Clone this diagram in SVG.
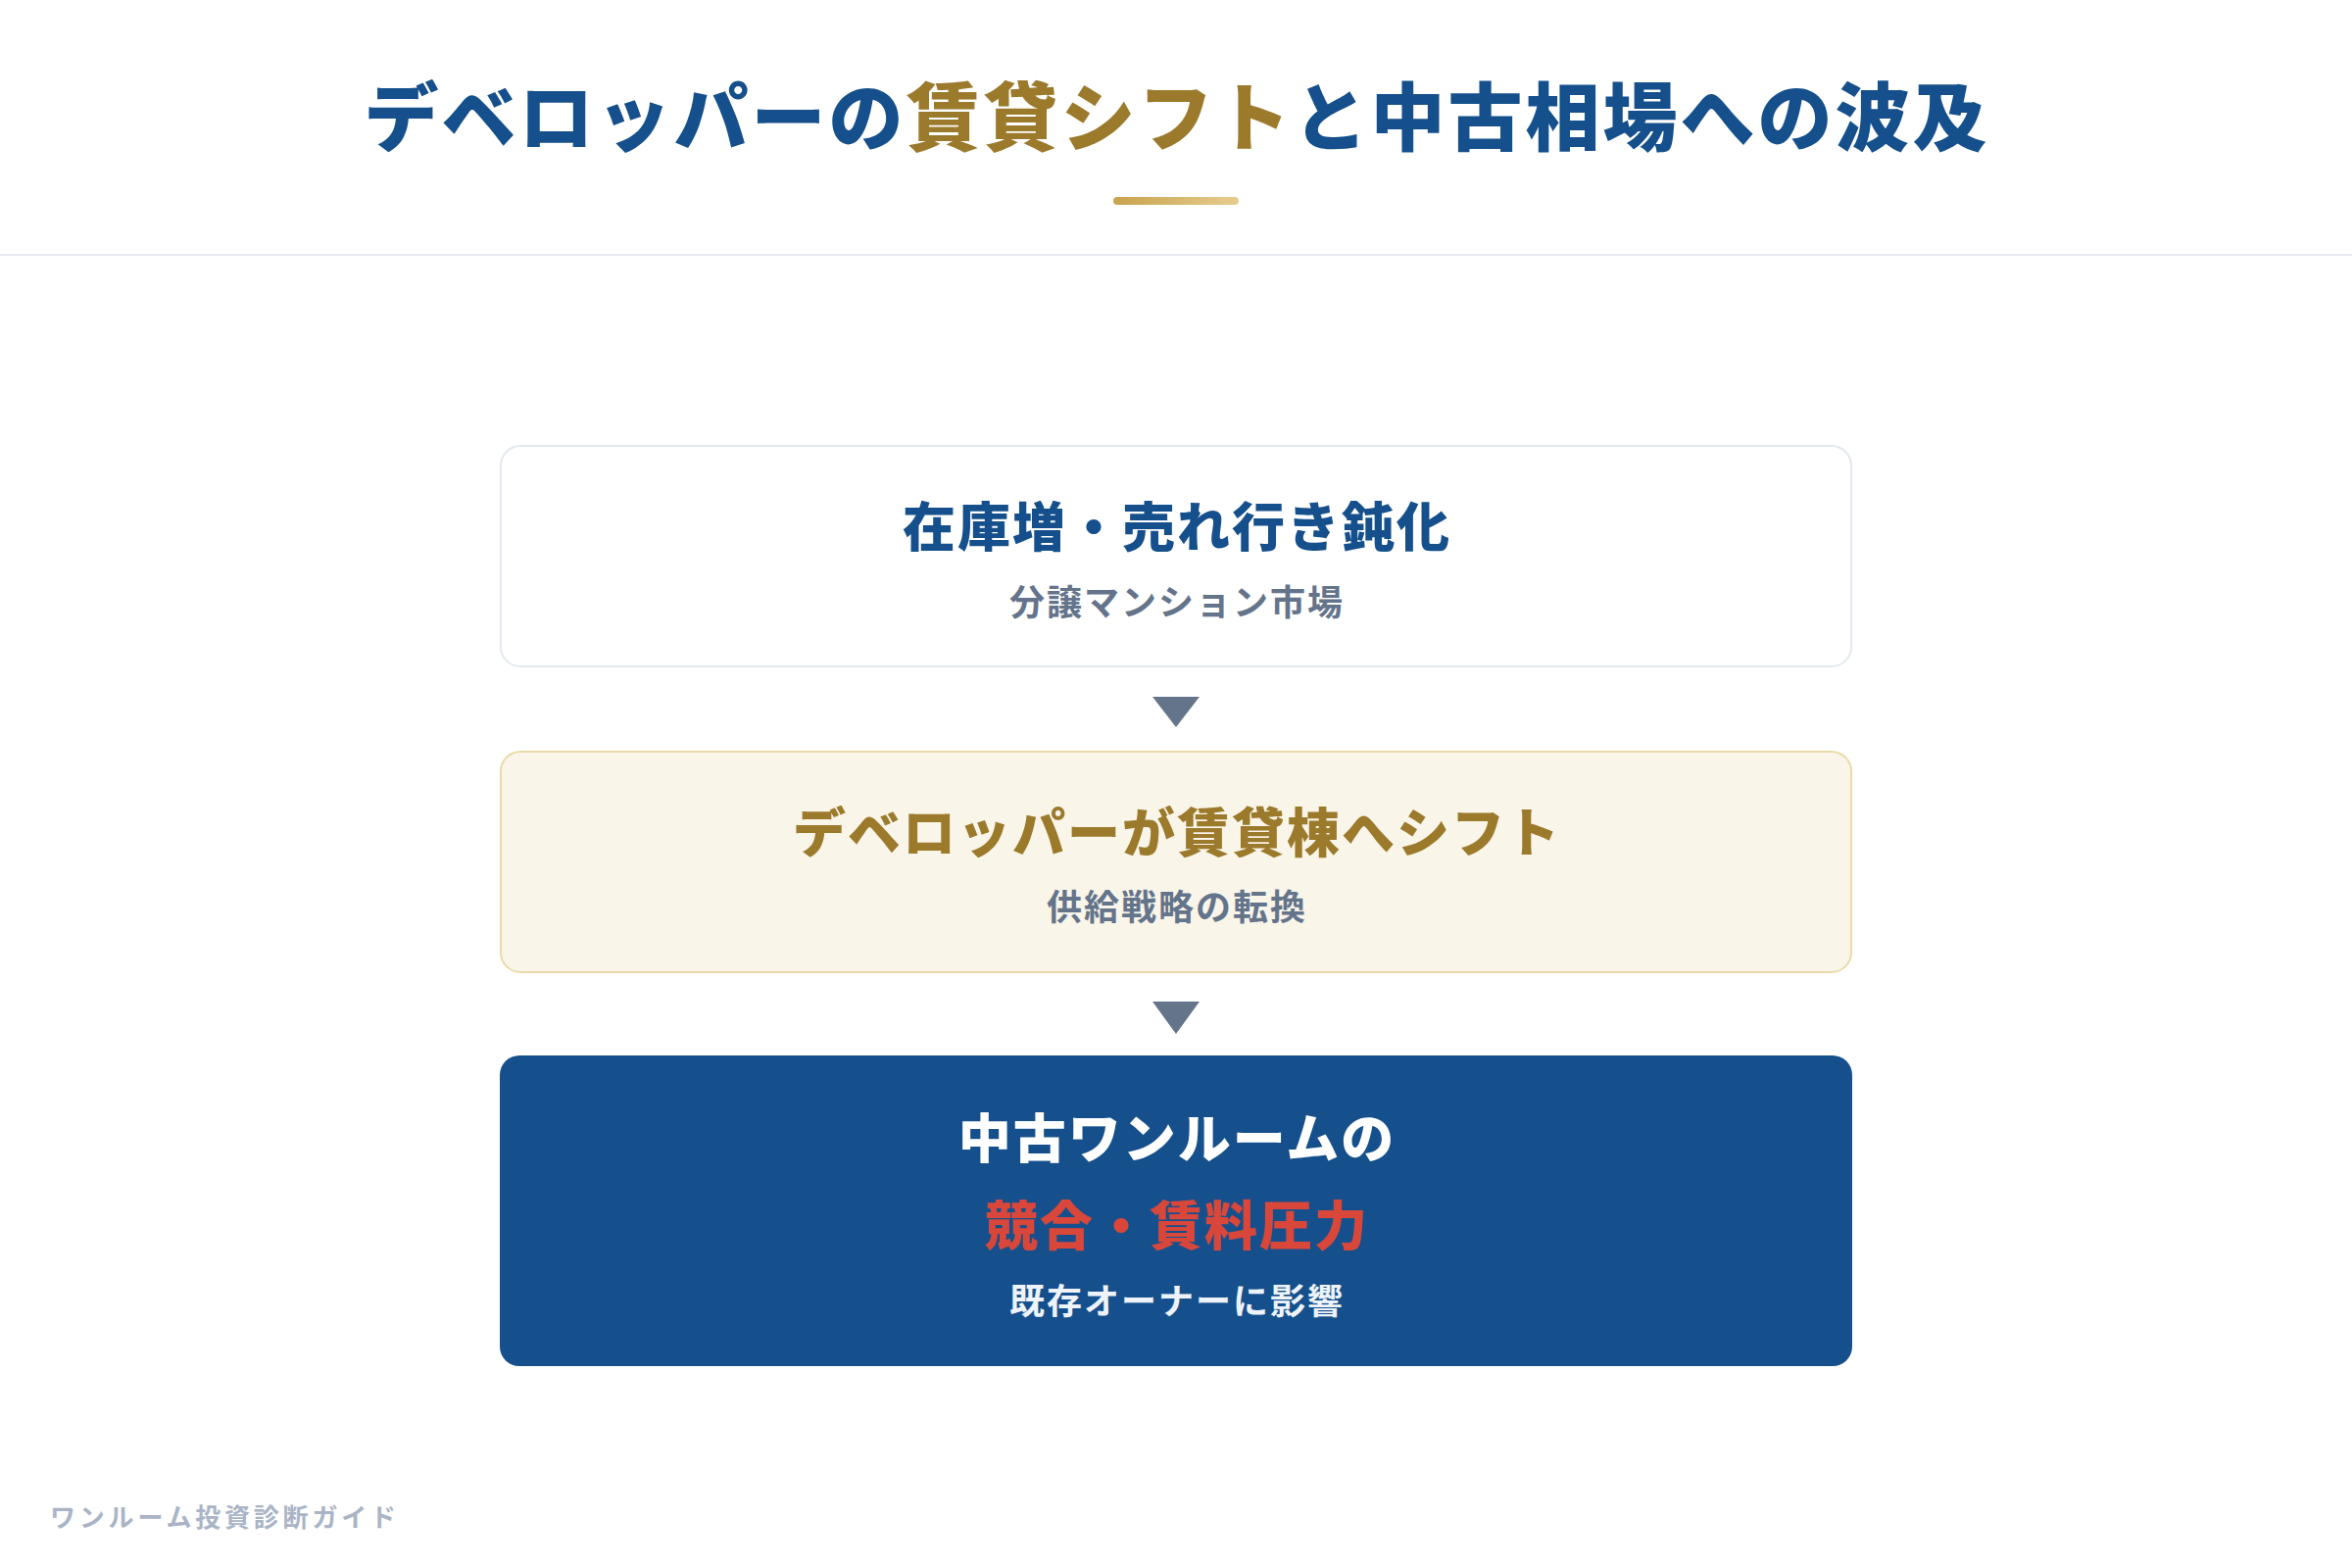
<svg xmlns="http://www.w3.org/2000/svg" width="2400" height="1600" viewBox="0 0 2400 1600">
  <defs>
    <linearGradient id="gold" x1="0" y1="0" x2="1" y2="0">
      <stop offset="0" stop-color="#c9a24d"/>
      <stop offset="1" stop-color="#e6cd8e"/>
    </linearGradient>
    <style>
      text { font-family: "Noto Sans CJK JP", "Noto Sans", sans-serif; text-anchor: middle; dominant-baseline: central; }
      .title { font-size: 76px; font-weight: 900; letter-spacing: 3px; fill: #15508c; }
      .gold { fill: #9c7a2c; }
      .head { font-size: 54px; font-weight: 900; letter-spacing: 2px; }
      .sub { font-size: 36px; font-weight: 700; letter-spacing: 2px; fill: #64748b; }
      .arrow { fill: #64748b; }
      .footer { font-size: 26px; font-weight: 700; letter-spacing: 3.8px; fill: #a9b4c6; text-anchor: start; }
    </style>
  </defs>
  <rect width="2400" height="1600" fill="#ffffff"/>

  <g id="header">
    <text class="title" x="1201" y="115">デベロッパーの<tspan class="gold">賃貸シフト</tspan>と中古相場への波及</text>
    <rect x="1136" y="201" width="128" height="8" rx="4" fill="url(#gold)"/>
    <rect x="0" y="259" width="2400" height="2" fill="#e6eaf0"/>
  </g>

  <g id="node1">
    <rect x="511" y="455" width="1378" height="225" rx="20" fill="#ffffff" stroke="#e2e8f0" stroke-width="2"/>
    <text class="head" x="1201" y="534" fill="#15508c">在庫増・売れ行き鈍化</text>
    <text class="sub" x="1201" y="612">分譲マンション市場</text>
  </g>

  <g id="node2">
    <rect x="511" y="767" width="1378" height="225" rx="20" fill="#faf5e9" stroke="#eadaa9" stroke-width="2"/>
    <text class="head" x="1201" y="846" fill="#9c7a2c">デベロッパーが賃貸棟へシフト</text>
    <text class="sub" x="1201" y="923">供給戦略の転換</text>
  </g>

  <g id="node3">
    <rect x="510" y="1077" width="1380" height="317" rx="20" fill="#15508c"/>
    <text class="head" x="1201" y="1158" fill="#ffffff">中古ワンルームの</text>
    <text class="head" x="1201" y="1247" fill="#d9473b">競合・賃料圧力</text>
    <text class="sub" x="1201" y="1325" style="fill:#eef3fa">既存オーナーに影響</text>
  </g>

  <g id="connectors">
    <polygon class="arrow" points="1176,711 1224,711 1200,742"/>
    <polygon class="arrow" points="1176,1022 1224,1022 1200,1055"/>
  </g>

  <g id="footer">
    <text class="footer" x="51" y="1546">ワンルーム投資診断ガイド</text>
  </g>
</svg>
